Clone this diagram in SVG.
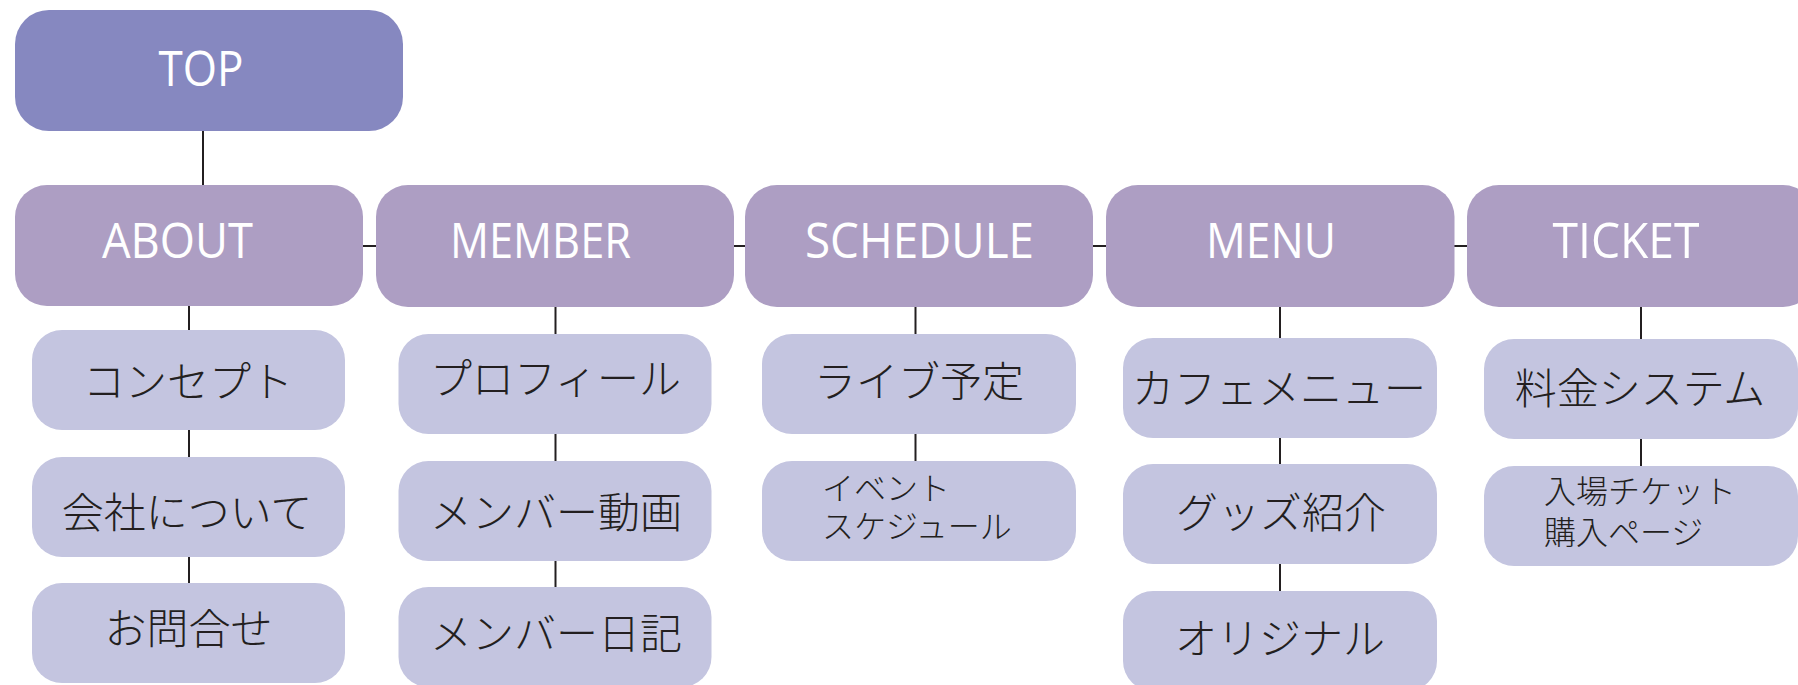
<svg xmlns="http://www.w3.org/2000/svg" width="1798" height="685" viewBox="0 0 1798 685">
<style>
.top{fill:#8688C0}
.l2{fill:#AD9EC3}
.l3{fill:#C4C5E0}
.en{font-family:"Open Sans","Liberation Sans",sans-serif;font-size:50px;fill:#FFFFFF;text-anchor:middle}
.jp{font-family:"Noto Sans CJK JP","Noto Sans",sans-serif;font-weight:300;font-size:42px;fill:#231F20;text-anchor:middle}
.jp2{font-family:"Noto Sans CJK JP","Noto Sans",sans-serif;font-weight:300;font-size:32px;fill:#231F20}
.ln{stroke:#231F20;stroke-width:2;fill:none}
</style>
<rect width="1798" height="685" fill="#FFFFFF"/>
<g id="connectors" class="ln">
<line x1="203" y1="131" x2="203" y2="186"/>
<line x1="362" y1="246" x2="377" y2="246"/>
<line x1="733" y1="246" x2="746" y2="246"/>
<line x1="1092" y1="246" x2="1107" y2="246"/>
<line x1="1454" y1="246" x2="1468" y2="246"/>
<line x1="189" y1="305" x2="189" y2="331"/>
<line x1="189" y1="429" x2="189" y2="458"/>
<line x1="189" y1="556" x2="189" y2="584"/>
<line x1="555.5" y1="306" x2="555.5" y2="335"/>
<line x1="555.5" y1="433" x2="555.5" y2="462"/>
<line x1="555.5" y1="560" x2="555.5" y2="588"/>
<line x1="915.5" y1="306" x2="915.5" y2="335"/>
<line x1="915.5" y1="433" x2="915.5" y2="462"/>
<line x1="1280" y1="306" x2="1280" y2="339"/>
<line x1="1280" y1="437" x2="1280" y2="465"/>
<line x1="1280" y1="563" x2="1280" y2="592"/>
<line x1="1641" y1="306" x2="1641" y2="340"/>
<line x1="1641" y1="438" x2="1641" y2="467"/>
</g>
<g id="top"><rect class="top" x="15" y="10" width="388" height="121" rx="34"/><text class="en" x="201" y="86" textLength="85" lengthAdjust="spacingAndGlyphs">TOP</text></g>
<g id="about"><rect class="l2" x="15" y="185" width="348" height="121" rx="32"/><text class="en" x="177.5" y="258" textLength="151" lengthAdjust="spacingAndGlyphs">ABOUT</text></g>
<g id="member"><rect class="l2" x="376" y="185" width="358" height="122" rx="32"/><text class="en" x="540.5" y="258" textLength="181" lengthAdjust="spacingAndGlyphs">MEMBER</text></g>
<g id="schedule"><rect class="l2" x="745" y="185" width="348" height="122" rx="32"/><text class="en" x="919.5" y="258" textLength="229" lengthAdjust="spacingAndGlyphs">SCHEDULE</text></g>
<g id="menu"><rect class="l2" x="1106" y="185" width="348.5" height="122" rx="32"/><text class="en" x="1271" y="258" textLength="130" lengthAdjust="spacingAndGlyphs">MENU</text></g>
<g id="ticket"><rect class="l2" x="1467" y="185" width="348" height="122" rx="32"/><text class="en" x="1626" y="258" textLength="147" lengthAdjust="spacingAndGlyphs">TICKET</text></g>
<g id="concept"><rect class="l3" x="32" y="330" width="313" height="100" rx="30"/><text class="jp" x="188" y="397">コンセプト</text></g>
<g id="company"><rect class="l3" x="32" y="457" width="313" height="100" rx="30"/><text class="jp" x="187" y="528">会社について</text></g>
<g id="contact"><rect class="l3" x="32" y="583" width="313" height="100" rx="30"/><text class="jp" x="188.5" y="644">お問合せ</text></g>
<g id="profile"><rect class="l3" x="398.5" y="334" width="313" height="100" rx="30"/><text class="jp" x="555.5" y="394">プロフィール</text></g>
<g id="member-video"><rect class="l3" x="398.5" y="461" width="313" height="100" rx="30"/><text class="jp" x="556" y="528">メンバー動画</text></g>
<g id="member-diary"><rect class="l3" x="398.5" y="587" width="313" height="100" rx="30"/><text class="jp" x="556" y="649">メンバー日記</text></g>
<g id="live"><rect class="l3" x="762" y="334" width="314" height="100" rx="30"/><text class="jp" x="919" y="397">ライブ予定</text></g>
<g id="event"><rect class="l3" x="762" y="461" width="314" height="100" rx="30"/><text class="jp2" x="822" y="500">イベント<tspan x="822" y="538">スケジュール</tspan></text></g>
<g id="cafe-menu"><rect class="l3" x="1123" y="338" width="314" height="100" rx="30"/><text class="jp" x="1279" y="404">カフェメニュー</text></g>
<g id="goods"><rect class="l3" x="1123" y="464" width="314" height="100" rx="30"/><text class="jp" x="1281" y="528">グッズ紹介</text></g>
<g id="original"><rect class="l3" x="1123" y="591" width="314" height="100" rx="30"/><text class="jp" x="1280" y="654">オリジナル</text></g>
<g id="price"><rect class="l3" x="1484" y="339" width="314" height="100" rx="30"/><text class="jp" x="1640" y="404">料金システム</text></g>
<g id="ticket-buy"><rect class="l3" x="1484" y="466" width="314" height="100" rx="30"/><text class="jp2" x="1544" y="503">入場チケット<tspan x="1544" y="544">購入ページ</tspan></text></g>
</svg>
